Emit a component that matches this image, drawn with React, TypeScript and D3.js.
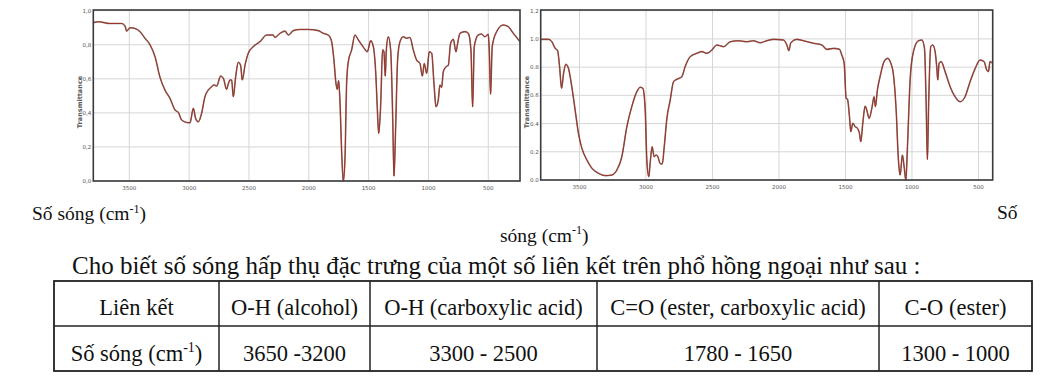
import React from "react";
import * as d3 from "d3";

// ---------- DATA ----------
const xTickValues = [3500, 3000, 2500, 2000, 1500, 1000, 500];
const leftYTicks = [0, 0.2, 0.4, 0.6, 0.8, 1.0];
const rightYTicks = [0, 0.2, 0.4, 0.6, 0.8, 1.0, 1.2];

const leftWavenumber = [
  3801, 3759, 3662, 3564, 3536, 3522, 3494, 3453, 3411, 3369, 3327, 3285, 3244, 3202, 3160, 3118, 3090, 3063, 3021, 2993,
  2965, 2946, 2923, 2896, 2868, 2840, 2812, 2792, 2770, 2737, 2714, 2687, 2673, 2659, 2645, 2631, 2611, 2589, 2570, 2556,
  2533, 2506, 2464, 2408, 2352, 2297, 2283, 2241, 2199, 2171, 2129, 2074, 2004, 1921, 1879, 1837, 1809, 1790, 1773, 1762,
  1751, 1740, 1726, 1712, 1698, 1684, 1670, 1642, 1614, 1586, 1558, 1531, 1511, 1483, 1461, 1439, 1428, 1416, 1400, 1383,
  1372, 1361, 1352, 1336, 1316, 1299, 1288, 1274, 1258, 1238, 1210, 1182, 1155, 1127, 1099, 1071, 1051, 1035, 1015, 993,
  973, 954, 937, 918, 904, 890, 876, 854, 834, 815, 792, 770, 756, 737, 695, 667, 645, 631, 617, 584,
  556, 528, 500, 492, 481, 467, 430, 375, 333, 291, 235,
];
const leftTransmittance = [
  0.93, 0.935, 0.925, 0.925, 0.91, 0.88, 0.9, 0.896, 0.877, 0.838, 0.8, 0.73, 0.61, 0.534, 0.485, 0.417, 0.403, 0.358, 0.344, 0.342,
  0.427, 0.368, 0.348, 0.397, 0.495, 0.534, 0.554, 0.564, 0.558, 0.616, 0.603, 0.538, 0.57, 0.593, 0.593, 0.495, 0.613, 0.697, 0.68, 0.593,
  0.68, 0.75, 0.789, 0.818, 0.857, 0.857, 0.843, 0.867, 0.88, 0.857, 0.883, 0.89, 0.89, 0.883, 0.867, 0.857, 0.818, 0.71, 0.573, 0.538,
  0.589, 0.476, 0.182, 0.0, 0.123, 0.573, 0.7, 0.77, 0.857, 0.828, 0.8, 0.773, 0.759, 0.824, 0.79, 0.613, 0.436, 0.28, 0.436, 0.77,
  0.759, 0.616, 0.77, 0.847, 0.77, 0.378, 0.029, 0.319, 0.71, 0.818, 0.847, 0.838, 0.843, 0.77, 0.71, 0.69, 0.616, 0.69, 0.632, 0.759,
  0.75, 0.573, 0.436, 0.476, 0.564, 0.55, 0.642, 0.67, 0.68, 0.808, 0.832, 0.759, 0.808, 0.867, 0.877, 0.867, 0.77, 0.436, 0.79, 0.857,
  0.863, 0.847, 0.861, 0.77, 0.51, 0.79, 0.877, 0.916, 0.906, 0.867, 0.818,
];

const rightWavenumber = [
  3790, 3733, 3708, 3683, 3665, 3650, 3635, 3620, 3603, 3583, 3558, 3533, 3508, 3482, 3445, 3407, 3357, 3307, 3257, 3219,
  3182, 3144, 3107, 3069, 3044, 3024, 3006, 2994, 2979, 2969, 2954, 2939, 2924, 2911, 2894, 2878, 2863, 2843, 2818, 2793,
  2768, 2731, 2706, 2668, 2618, 2580, 2543, 2505, 2468, 2417, 2367, 2305, 2242, 2192, 2142, 2092, 2041, 1966, 1941, 1926,
  1911, 1866, 1816, 1741, 1678, 1640, 1590, 1545, 1528, 1510, 1495, 1485, 1470, 1460, 1445, 1427, 1410, 1395, 1385, 1370,
  1352, 1340, 1322, 1302, 1285, 1275, 1260, 1240, 1210, 1184, 1159, 1139, 1119, 1102, 1089, 1072, 1059, 1046, 1034, 1014,
  989, 951, 926, 906, 894, 884, 874, 859, 844, 826, 814, 806, 796, 781, 751, 713, 676, 638, 601, 563,
  525, 488, 458, 438, 425, 413, 395,
];
const rightTransmittance = [
  0.997, 0.997, 0.98, 0.933, 0.917, 0.803, 0.65, 0.756, 0.82, 0.79, 0.66, 0.496, 0.33, 0.224, 0.142, 0.083, 0.047, 0.031, 0.035, 0.071,
  0.165, 0.378, 0.52, 0.626, 0.657, 0.65, 0.496, 0.142, 0.024, 0.118, 0.236, 0.165, 0.177, 0.165, 0.118, 0.113, 0.236, 0.437, 0.567, 0.697,
  0.714, 0.732, 0.803, 0.874, 0.898, 0.91, 0.898, 0.921, 0.957, 0.945, 0.98, 0.987, 0.98, 0.987, 0.973, 0.987, 0.997, 0.992, 0.957, 0.917,
  0.973, 0.997, 0.987, 0.969, 0.957, 0.926, 0.933, 0.926, 0.886, 0.827, 0.579, 0.572, 0.449, 0.343, 0.402, 0.378, 0.366, 0.331, 0.272, 0.402,
  0.524, 0.496, 0.437, 0.508, 0.59, 0.52, 0.638, 0.732, 0.839, 0.862, 0.827, 0.744, 0.496, 0.142, 0.035, 0.177, 0.094, 0.0, 0.236, 0.709,
  0.91, 0.987, 0.992, 0.933, 0.567, 0.146, 0.567, 0.945, 0.957, 0.91, 0.803, 0.709, 0.827, 0.839, 0.768, 0.661, 0.59, 0.555, 0.59, 0.697,
  0.79, 0.85, 0.839, 0.78, 0.768, 0.839, 0.827,
];

const tableHeaders = ["Liên kết", "O-H (alcohol)", "O-H (carboxylic acid)", "C=O (ester, carboxylic acid)", "C-O (ester)"];
const tableRanges = ["3650 -3200", "3300 - 2500", "1780 - 1650", "1300 - 1000"];
const yAxisTitle = "Transmittance";
const introText = "Cho biết số sóng hấp thụ đặc trưng của một số liên kết trên phổ hồng ngoại như sau :";

// ---------- COMPONENTS ----------
type SpecProps = {
  wn: number[];
  tr: number[];
  xDomain: [number, number];
  yMax: number;
  yTicks: number[];
  left: number;
  right: number;
  top: number;
  bottom: number;
  yTopPx: number;
  decimalComma: boolean;
  titleX: number;
  titleY: number;
};

function Spectrum(p: SpecProps) {
  const x = d3.scaleLinear().domain(p.xDomain).range([p.left, p.right]);
  const y = d3.scaleLinear().domain([0, p.yMax]).range([p.bottom, p.yTopPx]);
  const pts = p.wn.map((w, i) => [w, p.tr[i]] as [number, number]);
  const line = d3
    .line<[number, number]>()
    .x((d) => x(d[0]))
    .y((d) => y(d[1]))
    .curve(d3.curveMonotoneX);
  const fmt = (v: number) => {
    const s = d3.format(".1f")(v);
    return p.decimalComma ? s.replace(".", ",") : s;
  };
  return (
    <g>
      <rect x={p.left} y={p.top} width={p.right - p.left} height={p.bottom - p.top} fill="#fff" />
      {xTickValues.map((t) => (
        <line key={"gx" + t} x1={x(t)} x2={x(t)} y1={p.top} y2={p.bottom} stroke="#d6d6d6" strokeWidth={1} />
      ))}
      {p.yTicks.map((t) => (
        <line key={"gy" + t} x1={p.left} x2={p.right} y1={y(t)} y2={y(t)} stroke="#d6d6d6" strokeWidth={1} />
      ))}
      <path d={line(pts) || ""} fill="none" stroke="#3a0c06" strokeWidth={1.6} opacity={0.55} />
      <path d={line(pts) || ""} fill="none" stroke="#9a2a1c" strokeWidth={0.9} />
      <rect
        x={p.left}
        y={p.top}
        width={p.right - p.left}
        height={p.bottom - p.top}
        fill="none"
        stroke="#3a3a3a"
        strokeWidth={1.6}
      />
      {xTickValues.map((t) => (
        <text
          key={"tx" + t}
          x={x(t)}
          y={p.bottom + 8.5}
          fontSize={5.5}
          fontFamily="'DejaVu Sans', sans-serif"
          fill="#555"
          textAnchor="middle"
        >
          {t}
        </text>
      ))}
      {p.yTicks.map((t) => (
        <text
          key={"ty" + t}
          x={p.left - 2}
          y={y(t) + 2}
          fontSize={5.5}
          fontFamily="'DejaVu Sans', sans-serif"
          fill="#555"
          textAnchor="end"
        >
          {fmt(t)}
        </text>
      ))}
      <text
        transform={`translate(${p.titleX},${p.titleY}) rotate(-90)`}
        fontSize={6.5}
        fontWeight="bold"
        fontFamily="'DejaVu Sans', sans-serif"
        fill="#555"
        textAnchor="middle"
      >
        {yAxisTitle}
      </text>
    </g>
  );
}

const serif = "'Liberation Serif', 'Times New Roman', serif";

function CmUnit({ size }: { size: number }) {
  const sup = size * 0.62;
  const dy = size * 0.38;
  return (
    <>
      <tspan>(cm</tspan>
      <tspan fontSize={sup} dy={-dy}>
        -1
      </tspan>
      <tspan dy={dy}>)</tspan>
    </>
  );
}

export default function App() {
  const colX = [54, 219, 370, 597, 879, 1032];
  const rowY = [281, 326, 371];
  const cellFont = 22.5;
  return (
    <svg
      width={1046}
      height={380}
      style={{ position: "absolute", left: 0, top: 0, background: "#fff" }}
    >
      <rect x={0} y={0} width={1046} height={380} fill="#fff" />
      <Spectrum
        wn={leftWavenumber}
        tr={leftTransmittance}
        xDomain={[3801, 235]}
        yMax={1.0}
        yTicks={leftYTicks}
        left={93.3}
        right={520}
        top={10}
        bottom={181}
        yTopPx={10.7}
        decimalComma={true}
        titleX={82}
        titleY={102}
      />
      <Spectrum
        wn={rightWavenumber}
        tr={rightTransmittance}
        xDomain={[3792, 393]}
        yMax={1.2}
        yTicks={rightYTicks}
        left={540.7}
        right={992.7}
        top={10}
        bottom={180}
        yTopPx={10.7}
        decimalComma={false}
        titleX={528.5}
        titleY={102}
      />

      <g fontFamily={serif} fill="#111">
        <text x={32} y={220} fontSize={19.5}>
          Số sóng <CmUnit size={19.5} />
        </text>
        <text x={997} y={219} fontSize={19.5}>
          Số
        </text>
        <text x={500} y={241.5} fontSize={19.5}>
          sóng <CmUnit size={19.5} />
        </text>
        <text x={72} y={274} fontSize={25}>
          {introText}
        </text>
      </g>

      <g>
        <rect
          x={colX[0]}
          y={rowY[0]}
          width={colX[5] - colX[0]}
          height={rowY[2] - rowY[0]}
          fill="none"
          stroke="#222"
          strokeWidth={1.8}
        />
        <line x1={colX[0]} x2={colX[5]} y1={rowY[1]} y2={rowY[1]} stroke="#222" strokeWidth={1.5} />
        {colX.slice(1, 5).map((cx) => (
          <line key={"c" + cx} x1={cx} x2={cx} y1={rowY[0]} y2={rowY[2]} stroke="#222" strokeWidth={1.5} />
        ))}
        <g fontFamily={serif} fill="#111" fontSize={cellFont} textAnchor="middle">
          {tableHeaders.map((h, i) => (
            <text key={"h" + i} x={(colX[i] + colX[i + 1]) / 2} y={315}>
              {h}
            </text>
          ))}
          <text x={(colX[0] + colX[1]) / 2} y={361}>
            Số sóng <CmUnit size={cellFont} />
          </text>
          {tableRanges.map((r, i) => (
            <text key={"r" + i} x={(colX[i + 1] + colX[i + 2]) / 2} y={361}>
              {r}
            </text>
          ))}
        </g>
      </g>
    </svg>
  );
}
